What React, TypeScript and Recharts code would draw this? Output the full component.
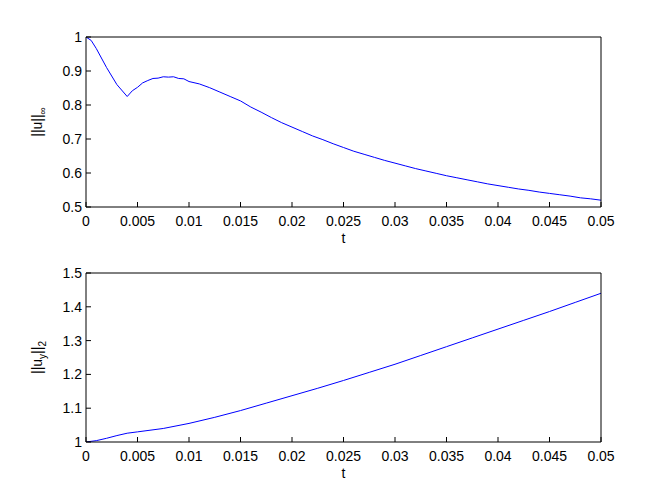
import React from 'react';
import { LineChart, Line, XAxis, YAxis } from 'recharts';

// time samples and values
const tTop = [
  0, 0.0005, 0.001, 0.002, 0.003, 0.004, 0.0045, 0.005, 0.0055, 0.006, 0.0065, 0.007, 0.0075,
  0.008, 0.0085, 0.009, 0.0095, 0.01, 0.011, 0.012, 0.013, 0.014, 0.015, 0.016, 0.017, 0.018,
  0.019, 0.02, 0.021, 0.022, 0.023, 0.024, 0.025, 0.026, 0.027, 0.028, 0.029, 0.03, 0.031, 0.032,
  0.033, 0.034, 0.035, 0.036, 0.037, 0.038, 0.039, 0.04, 0.041, 0.042, 0.043, 0.044, 0.045, 0.046,
  0.047, 0.048, 0.049, 0.05,
];
const uInf = [
  1.0, 0.99, 0.966, 0.91, 0.86, 0.825, 0.842, 0.852, 0.865, 0.872, 0.878, 0.879, 0.883, 0.882,
  0.883, 0.878, 0.877, 0.869, 0.862, 0.851, 0.838, 0.825, 0.812, 0.794, 0.779, 0.763, 0.748,
  0.735, 0.722, 0.709, 0.698, 0.686, 0.675, 0.664, 0.655, 0.646, 0.637, 0.629, 0.621, 0.613,
  0.606, 0.599, 0.592, 0.586, 0.58, 0.574, 0.568, 0.563, 0.558, 0.553, 0.549, 0.544, 0.54, 0.536,
  0.532, 0.527, 0.524, 0.52,
];

const tBottom = [
  0, 0.001, 0.002, 0.003, 0.004, 0.005, 0.0075, 0.01, 0.0125, 0.015, 0.0175, 0.02, 0.0225, 0.025,
  0.0275, 0.03, 0.0325, 0.035, 0.0375, 0.04, 0.0425, 0.045, 0.0475, 0.05,
];
const uy2 = [
  1.0, 1.004, 1.011, 1.019, 1.026, 1.03, 1.04, 1.055, 1.073, 1.093, 1.115, 1.137, 1.159, 1.182,
  1.206, 1.23, 1.256, 1.282, 1.308, 1.334, 1.36, 1.386, 1.413, 1.44,
];

const tTicks = [0, 0.005, 0.01, 0.015, 0.02, 0.025, 0.03, 0.035, 0.04, 0.045, 0.05];
const topTicks = [0.5, 0.6, 0.7, 0.8, 0.9, 1];
const bottomTicks = [1, 1.1, 1.2, 1.3, 1.4, 1.5];

const topData = tTop.map((t, i) => ({ t, v: uInf[i] }));
const bottomData = tBottom.map((t, i) => ({ t, v: uy2[i] }));

const FONT = '"Liberation Sans", Arial, Helvetica, sans-serif';
const tickStyle = { fill: '#000', fontSize: 14, fontFamily: FONT };

const TLabel = ({ viewBox }: any) => {
  const { x = 0, y = 0, width = 0 } = viewBox || {};
  return (
    <text x={x + width / 2} y={y + 36} textAnchor="middle" fontSize={14} fontFamily={FONT} fill="#000">
      t
    </text>
  );
};

const makeYLabel = (parts: { s: string; sub?: boolean }[]) => ({ viewBox }: any) => {
  const { y = 0, height = 0 } = viewBox || {};
  const cy = y + height / 2;
  let prevSub = false;
  return (
    <text
      transform={`translate(46, ${cy}) rotate(-90)`}
      textAnchor="middle"
      fontSize={14}
      fontFamily={FONT}
      fill="#000"
    >
      {parts.map((p, i) => {
        const dy = p.sub === prevSub ? 0 : p.sub ? 4 : -4;
        prevSub = !!p.sub;
        return (
          <tspan key={i} dy={dy} fontSize={p.sub ? 10 : 14}>
            {p.s}
          </tspan>
        );
      })}
    </text>
  );
};

const TopYLabel = makeYLabel([{ s: '||u||' }, { s: '\u221E', sub: true }]);
const BottomYLabel = makeYLabel([{ s: '||u' }, { s: 'y', sub: true }, { s: '||' }, { s: '2', sub: true }]);

interface PanelProps {
  data: { t: number; v: number }[];
  yTicks: number[];
  top: number;
  bottom: number;
  YLabel: (p: any) => React.ReactElement;
}

const Panel = ({ data, yTicks, top, bottom, YLabel }: PanelProps) => {
  const yDomain = [yTicks[0], yTicks[yTicks.length - 1]];
  return (
    <LineChart width={664} height={249} data={data} margin={{ top: top - 1, right: 62, bottom: 0, left: 0 }}>
      <XAxis
        dataKey="t"
        type="number"
        domain={[0, 0.05]}
        ticks={tTicks}
        allowDataOverflow
        height={bottom}
        tickSize={-5}
        tickMargin={14}
        stroke="#000"
        tick={tickStyle}
        interval={0}
        label={TLabel}
      />
      <XAxis
        xAxisId="top"
        orientation="top"
        dataKey="t"
        type="number"
        domain={[0, 0.05]}
        ticks={tTicks}
        allowDataOverflow
        height={1}
        tickSize={-5}
        stroke="#000"
        tick={false}
        interval={0}
      />
      <YAxis
        type="number"
        domain={yDomain}
        ticks={yTicks}
        allowDataOverflow
        width={86}
        tickSize={-5}
        tickMargin={9}
        stroke="#000"
        tick={tickStyle}
        interval={0}
        label={YLabel}
      />
      <YAxis
        yAxisId="right"
        orientation="right"
        type="number"
        domain={yDomain}
        ticks={yTicks}
        allowDataOverflow
        width={1}
        tickSize={-5}
        stroke="#000"
        tick={false}
        interval={0}
      />
      <Line
        type="linear"
        dataKey="v"
        stroke="#0000ff"
        strokeWidth={1}
        dot={false}
        isAnimationActive={false}
      />
    </LineChart>
  );
};

export default function App() {
  return (
    <div
      style={{
        position: 'absolute',
        left: 0,
        top: 0,
        width: 664,
        height: 498,
        background: '#fff',
        fontFamily: FONT,
      }}
    >
      <Panel data={topData} yTicks={topTicks} top={37} bottom={42} YLabel={TopYLabel} />
      <Panel data={bottomData} yTicks={bottomTicks} top={24} bottom={56} YLabel={BottomYLabel} />
    </div>
  );
}
